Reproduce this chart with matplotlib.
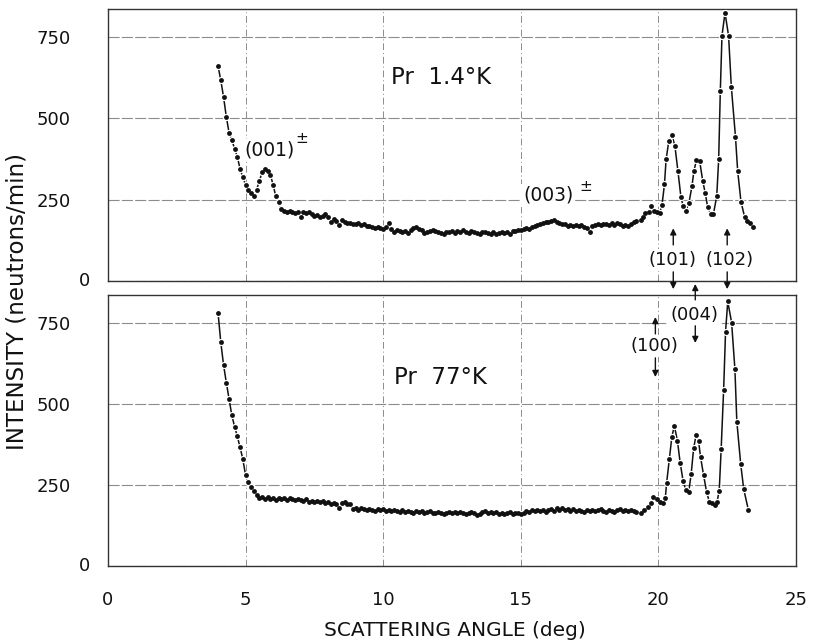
import matplotlib
matplotlib.use("Agg")
import matplotlib.pyplot as plt

# ---------------- data ----------------
# common scan angles of the low-angle / background region (deg)
angle_scan = [
    4.0, 4.1, 4.2, 4.3, 4.4, 4.5, 4.6, 4.7, 4.8, 4.9,
    5.0, 5.1, 5.2, 5.3, 5.4, 5.5, 5.6, 5.7, 5.8, 5.9,
    6.0, 6.1, 6.2, 6.3, 6.4, 6.5, 6.6, 6.7, 6.8, 6.9,
    7.0, 7.1, 7.2, 7.3, 7.4, 7.5, 7.6, 7.7, 7.8, 7.9,
    8.0, 8.1, 8.2, 8.3, 8.4, 8.5, 8.6, 8.7, 8.8, 8.9,
    9.0, 9.1, 9.2, 9.3, 9.4, 9.5, 9.6, 9.7, 9.8, 9.9,
    10.0, 10.1, 10.2, 10.3, 10.4, 10.5, 10.6, 10.7, 10.8, 10.9,
    11.0, 11.1, 11.2, 11.3, 11.4, 11.5, 11.6, 11.7, 11.8, 11.9,
    12.0, 12.1, 12.2, 12.3, 12.4, 12.5, 12.6, 12.7, 12.8, 12.9,
    13.0, 13.1, 13.2, 13.3, 13.4, 13.5, 13.6, 13.7, 13.8, 13.9,
    14.0, 14.1, 14.2, 14.3, 14.4, 14.5, 14.6, 14.7, 14.8, 14.9,
    15.0, 15.1, 15.2, 15.3, 15.4, 15.5, 15.6, 15.7, 15.8, 15.9,
    16.0, 16.1, 16.2, 16.3, 16.4, 16.5, 16.6, 16.7, 16.8, 16.9,
    17.0, 17.1, 17.2, 17.3, 17.4, 17.5, 17.6, 17.7, 17.8, 17.9,
    18.0, 18.1, 18.2, 18.3, 18.4, 18.5, 18.6, 18.7, 18.8, 18.9,
    19.0, 19.1, 19.2,
]

# Pr 1.4 K
count_top_scan = [
    661, 617, 566, 505, 456, 433, 407, 382, 345, 319,
    296, 281, 272, 262, 281, 307, 334, 343, 337, 327,
    296, 260, 243, 221, 216, 213, 216, 213, 210, 213,
    196, 213, 209, 213, 205, 200, 203, 196, 200, 205,
    198, 182, 190, 186, 172, 188, 182, 177, 179, 176,
    174, 177, 172, 174, 170, 169, 166, 163, 166, 164,
    161, 166, 177, 160, 151, 158, 154, 151, 155, 148,
    156, 163, 166, 161, 156, 148, 151, 154, 156, 153,
    151, 148, 144, 152, 150, 155, 148, 153, 150, 156,
    152, 149, 153, 150, 147, 145, 150, 152, 148, 146,
    150, 144, 148, 152, 147, 150, 146, 153, 155, 158,
    156, 160, 163, 160, 165, 168, 172, 175, 178, 182,
    180, 186, 188, 183, 178, 174, 176, 170, 173, 168,
    173, 169, 171, 167, 163, 152, 170, 172, 175, 171,
    174, 176, 173, 177, 172, 178, 175, 170, 173, 168,
    176, 180, 184,
]
angle_top_peaks = [
    19.37, 19.45, 19.52, 19.65, 19.73, 19.85, 19.94, 20.04, 20.13, 20.22,
    20.28, 20.38, 20.49, 20.60, 20.71, 20.82, 20.90, 21.00, 21.11, 21.22,
    21.29, 21.38, 21.50, 21.61, 21.70, 21.79, 21.90, 22.00, 22.12, 22.19,
    22.25, 22.31, 22.42, 22.55, 22.65, 22.80, 22.88, 23.00, 23.13, 23.22,
    23.33, 23.45,
]
count_top_peaks = [
    188, 198, 208, 212, 231, 216, 212, 208, 233, 297,
    374, 431, 449, 415, 338, 257, 231, 216, 240, 292,
    338, 371, 369, 308, 271, 228, 206, 206, 261, 374,
    585, 754, 825, 754, 597, 444, 339, 244, 198, 184,
    177, 165,
]

# Pr 77 K
count_bot_scan = [
    780, 690, 620, 566, 515, 465, 430, 400, 366, 330,
    280, 258, 245, 232, 220, 210, 214, 208, 212, 206,
    210, 205, 211, 207, 209, 204, 210, 206, 203, 208,
    204, 201, 206, 198, 202, 197, 200, 196, 199, 194,
    198, 192, 195, 190, 178, 193, 196, 190, 192, 176,
    178, 174, 180, 176, 172, 177, 174, 171, 175, 172,
    176, 170, 173, 169, 174, 170, 168, 172, 167, 171,
    168, 165, 170, 166, 169, 164, 167, 170, 165, 162,
    166, 163, 160, 165, 168, 163, 166, 162, 167, 164,
    160, 165, 168, 162, 158, 161, 167, 170, 165, 168,
    163, 166, 161, 164, 160, 163, 166, 161, 165, 162,
    160, 164, 170, 168, 172, 169, 174, 170, 173, 168,
    172, 176, 171, 178, 174, 180, 173, 177, 171, 175,
    169, 173, 170, 167, 172, 170, 174, 169, 172, 175,
    170, 168, 173, 171, 168, 172, 175, 170, 173, 169,
    172, 170, 168,
]
angle_bot_peaks = [
    19.37, 19.49, 19.61, 19.73, 19.82, 19.94, 20.06, 20.16, 20.25, 20.30,
    20.40, 20.49, 20.58, 20.69, 20.79, 20.90, 21.00, 21.10, 21.19, 21.28,
    21.37, 21.46, 21.53, 21.64, 21.75, 21.85, 21.95, 22.05, 22.13, 22.21,
    22.28, 22.37, 22.44, 22.52, 22.66, 22.78, 22.85, 22.99, 23.10, 23.27,
]
count_bot_peaks = [
    165, 173, 183, 195, 212, 206, 198, 195, 209, 257,
    331, 399, 432, 387, 319, 261, 234, 228, 283, 363,
    404, 385, 337, 281, 229, 198, 193, 187, 198, 232,
    360, 543, 723, 816, 751, 607, 445, 315, 237, 173,
]

angle_top = angle_scan + angle_top_peaks
count_top = count_top_scan + count_top_peaks
angle_bot = angle_scan + angle_bot_peaks
count_bot = count_bot_scan + count_bot_peaks

y_ticks = [0, 250, 500, 750]
x_ticks = [0, 5, 10, 15, 20, 25]
x_tick_labels = ["0", "5", "10", "15", "20", "25"]

# ---------------- figure ----------------
plt.rcParams['font.family'] = ['DejaVu Sans']
INK = '#111111'
GRID = '#8c8c8c'

fig = plt.figure(figsize=(8.13, 6.41), dpi=100)
ax1 = fig.add_axes([0.1328, 0.5616, 0.8463, 0.4236])
ax2 = fig.add_axes([0.1328, 0.1170, 0.8463, 0.4228])

for ax, ang, cnt, ytop in ((ax1, angle_top, count_top, 835),
                           (ax2, angle_bot, count_bot, 836)):
    ax.set_xlim(0, 25)
    ax.set_ylim(0, ytop)
    ax.set_yticks(y_ticks)
    ax.set_yticklabels(["", "250", "500", "750"])
    ax.set_xticks(x_ticks)
    ax.tick_params(length=0, labelsize=13, colors=INK)
    ax.tick_params(axis='y', pad=27)
    ax.yaxis.grid(True, color=GRID, lw=0.8, ls=(0, (10, 2)))
    ax.xaxis.grid(True, color=GRID, lw=0.7, ls=(0, (7, 3, 1, 3)))
    ax.set_axisbelow(True)
    for s in ax.spines.values():
        s.set_color('#333333')
        s.set_linewidth(1.0)
    ax.plot(ang, cnt, color=INK, lw=1.1, zorder=3)
    ax.plot(ang, cnt, ls='none', marker='o', ms=5.2, mfc='white',
            mec='none', zorder=4)
    ax.plot(ang, cnt, ls='none', marker='o', ms=3.5, mfc=INK,
            mec='none', zorder=5)
    # "0" label sits a little closer to the axis in the original
    ax.annotate("0", xy=(0, 0), xycoords='data', xytext=(-17, 0),
                textcoords='offset points', ha='center', va='center',
                fontsize=13, color=INK, annotation_clip=False)

ax1.set_xticklabels([])
ax2.set_xticklabels(x_tick_labels)
ax2.tick_params(axis='x', pad=18)

# panel titles
ax1.text(12.12, 626, "Pr  1.4°K", fontsize=16.5, ha='center', va='center', color=INK)
ax2.text(12.09, 580, "Pr  77°K", fontsize=16.5, ha='center', va='center', color=INK)

wbox = dict(boxstyle='square,pad=0.1', fc='white', ec='none')

# magnetic satellites
ax1.text(5.88, 403, "(001)", fontsize=13.5, ha='center', va='center', color=INK, bbox=wbox, zorder=6)
ax1.text(7.05, 438, "±", fontsize=11, ha='center', va='center', color=INK, zorder=6)
ax1.text(16.0, 263, "(003)", fontsize=13.5, ha='center', va='center', color=INK, bbox=wbox, zorder=6)
ax1.text(17.35, 292, "±", fontsize=11, ha='center', va='center', color=INK, zorder=6)

arrow = dict(arrowstyle='-|>', color=INK, lw=1.0, mutation_scale=9, shrinkA=0, shrinkB=0)

def hkl(ax, label, xl, yl, xa, up_tail, up_tip, dn_tail, dn_tip):
    ax.text(xl, yl, label, fontsize=13, ha='center', va='center', color=INK,
            bbox=wbox, zorder=6, clip_on=False)
    ax.annotate("", xy=(xa, up_tip), xytext=(xa, up_tail), arrowprops=arrow,
                annotation_clip=False, zorder=6)
    ax.annotate("", xy=(xa, dn_tip), xytext=(xa, dn_tail), arrowprops=arrow,
                annotation_clip=False, zorder=6)

hkl(ax1, "(101)", 20.50, 64, 20.54, 111, 162, 28, -25)
hkl(ax1, "(102)", 22.58, 64, 22.50, 111, 162, 28, -25)
hkl(ax2, "(100)", 19.85, 679, 19.89, 716, 768, 642, 583)
hkl(ax2, "(004)", 21.30, 775, 21.34, 821, 870, 741, 688)

fig.text(0.560, 0.017, "SCATTERING ANGLE (deg)", fontsize=14.5,
         ha='center', va='center', color=INK)
fig.text(0.021, 0.530, "INTENSITY (neutrons/min)", fontsize=16.5,
         rotation=90, ha='center', va='center', color=INK)

fig.savefig("out.png", dpi=100)
